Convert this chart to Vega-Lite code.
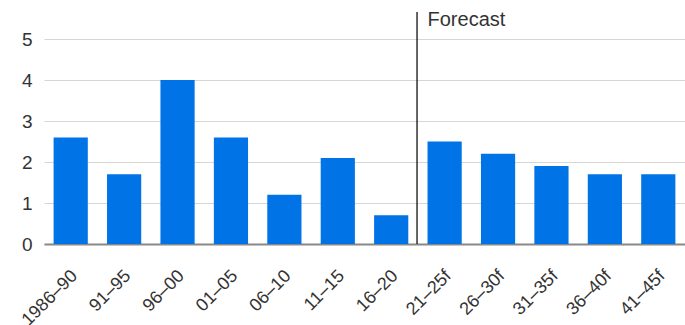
{
  "$schema": "https://vega.github.io/schema/vega-lite/v6.json",
  "autosize": "none",
  "width": 641,
  "height": 232,
  "padding": {"left": 44, "top": 12, "right": 0, "bottom": 81},
  "background": "white",
  "config": {
    "view": {"stroke": null},
    "font": "Liberation Sans",
    "axis": {"labelFont": "Liberation Sans", "labelColor": "#333333", "labelFontSize": 18}
  },
  "layer": [
    {
      "data": {
        "values": [
          {"period": "1986–90", "value": 2.6},
          {"period": "91–95", "value": 1.7},
          {"period": "96–00", "value": 4.0},
          {"period": "01–05", "value": 2.6},
          {"period": "06–10", "value": 1.2},
          {"period": "11–15", "value": 2.1},
          {"period": "16–20", "value": 0.7},
          {"period": "21–25f", "value": 2.5},
          {"period": "26–30f", "value": 2.2},
          {"period": "31–35f", "value": 1.9},
          {"period": "36–40f", "value": 1.7},
          {"period": "41–45f", "value": 1.7}
        ]
      },
      "mark": {"type": "bar", "color": "#0073e6"},
      "encoding": {
        "x": {
          "field": "period", "type": "nominal",
          "scale": {"domain": ["1986–90", "91–95", "96–00", "01–05", "06–10", "11–15", "16–20", "21–25f", "26–30f", "31–35f", "36–40f", "41–45f"], "paddingInner": 0.36, "paddingOuter": 0.18},
          "axis": {"title": null, "labelAngle": -45, "labelAlign": "right", "labelBaseline": "middle", "ticks": false, "labelPadding": 29, "labelOffset": 4, "labelFontSize": 18, "domainColor": "#888888", "domainWidth": 2, "grid": false}
        },
        "y": {
          "field": "value", "type": "quantitative",
          "scale": {"domain": [0, 5.66], "nice": false, "zero": true},
          "axis": {"title": null, "values": [0, 1, 2, 3, 4, 5], "domain": false, "ticks": false, "labelPadding": 12, "labelFontSize": 19, "grid": true, "gridColor": "#d6d6d6", "gridWidth": 1}
        }
      }
    },
    {
      "data": {"values": [{"label": "Forecast", "start": "21–25f"}]},
      "mark": {"type": "rule", "color": "#111111", "strokeWidth": 1.3, "xOffset": -10.5},
      "encoding": {
        "x": {"field": "start", "type": "nominal", "bandPosition": 0},
        "y": {"datum": 0, "type": "quantitative"},
        "y2": {"datum": 5.66}
      }
    },
    {
      "data": {"values": [{"label": "Forecast", "start": "21–25f"}]},
      "mark": {"type": "text", "align": "left", "baseline": "alphabetic", "fontSize": 20, "color": "#333333", "dy": 14},
      "encoding": {
        "text": {"field": "label"},
        "x": {"field": "start", "type": "nominal", "bandPosition": 0},
        "y": {"datum": 5.66, "type": "quantitative"}
      }
    }
  ]
}
